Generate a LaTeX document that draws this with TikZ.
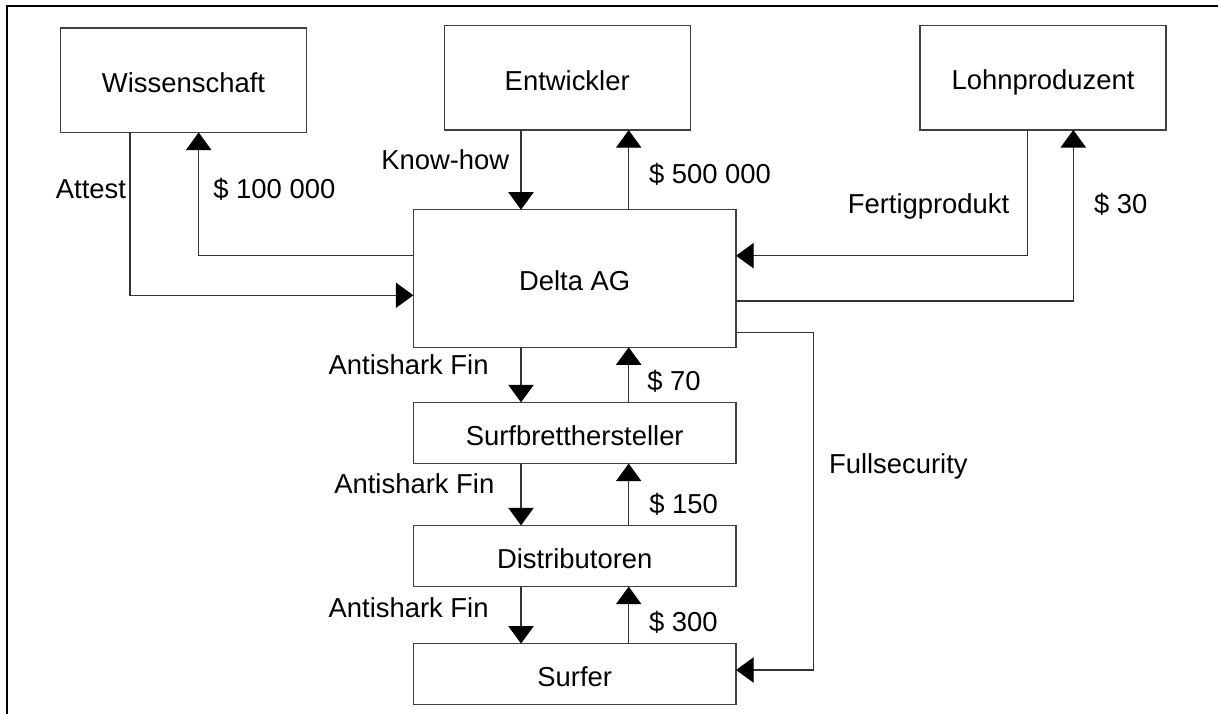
\documentclass[tikz,border=0pt]{standalone}
\usepackage{fontspec}
\setmainfont{Liberation Sans}
\usetikzlibrary{arrows.meta}

\begin{document}
\begin{tikzpicture}[
  box/.style={draw=black!75,line width=0.4pt,minimum width=2.46cm,minimum height=1.045cm,
    inner sep=0pt,outer sep=0pt,text height=0.7em,text depth=0pt,font=\fontsize{7.8pt}{9pt}\selectfont},
  chainbox/.style={box,minimum width=3.227cm,minimum height=0.612cm},
  flow/.style={draw=black!80,line width=0.35pt,-{Triangle[width=7.2pt,length=5pt,black]}},
  lbl/.style={inner sep=0pt,font=\fontsize{7.8pt}{9pt}\selectfont}
]
\useasboundingbox (0,0) rectangle (12.18,-7.14);
\draw[line width=0.6pt] (0.067,-7.14) |- (12.18,-0.06);

% partners
\node[box] (wiss) at (1.835,-0.802) {Wissenschaft};
\node[box] (entw) at (5.672,-0.779) {Entwickler};
\node[box] (lohn) at (10.43,-0.777) {Lohnproduzent};
\node[box,minimum width=3.227cm,minimum height=1.376cm] (delta) at (5.747,-2.785) {Delta AG};

% chain down to the surfer
\node[chainbox] (surfb) at (5.747,-4.33) {Surfbretthersteller};
\node[chainbox] (dist) at (5.747,-5.56) {Distributoren};
\node[chainbox] (surfer) at (5.747,-6.742) {Surfer};

\coordinate (down) at (5.21,0);
\coordinate (up) at (6.287,0);
\foreach \a/\b in {entw/delta,delta/surfb,surfb/dist,dist/surfer}
  \draw[flow] (\a.south -| down) -- (\b.north -| down);
\foreach \a/\b in {delta/entw,surfb/delta,dist/surfb,surfer/dist}
  \draw[flow] (\a.north -| up) -- (\b.south -| up);

% side connections
\coordinate (attest) at (1.30,-2.953);
\draw[flow] (wiss.south -| attest) |- (delta.west |- attest);
\coordinate (geldwiss) at (1.987,-2.557);
\draw[flow] (delta.west |- geldwiss) -| (wiss.south -| geldwiss);
\coordinate (fertig) at (10.277,-2.557);
\draw[flow] (lohn.south -| fertig) |- (delta.east |- fertig);
\coordinate (geldlohn) at (10.733,-3.01);
\draw[flow] (delta.east |- geldlohn) -| (lohn.south -| geldlohn);
\coordinate (full) at (8.133,-3.323);
\coordinate (fullend) at (8.133,-6.70);
\draw[flow] (delta.east |- full) -- (full) -- (fullend) -- (surfer.east |- fullend);

% labels
\node[lbl,anchor=base east] (attestlbl) at (1.267,-1.983) {Attest};
\node[lbl,anchor=base west] (wisslbl) at (2.127,-1.983) {\$ 100 000};
\node[lbl,anchor=base east] (knowlbl) at (5.10,-1.70) {Know-how};
\node[lbl,anchor=base west] (entwlbl) at (6.483,-1.833) {\$ 500 000};
\node[lbl,anchor=base east] (fertiglbl) at (10.10,-2.133) {Fertigprodukt};
\node[lbl,anchor=base west] (lohnlbl) at (10.933,-2.133) {\$ 30};
\node[lbl,anchor=base east] (fin1) at (4.893,-3.75) {Antishark Fin};
\node[lbl,anchor=base west] (geld1) at (6.467,-3.907) {\$ 70};
\node[lbl,anchor=base east] (fin2) at (4.95,-4.94) {Antishark Fin};
\node[lbl,anchor=base west] (geld2) at (6.487,-5.133) {\$ 150};
\node[lbl,anchor=base east] (fin3) at (4.893,-6.173) {Antishark Fin};
\node[lbl,anchor=base west] (geld3) at (6.483,-6.317) {\$ 300};
\node[lbl,anchor=base west] (fulllbl) at (8.283,-4.74) {Fullsecurity};
\end{tikzpicture}
\end{document}
